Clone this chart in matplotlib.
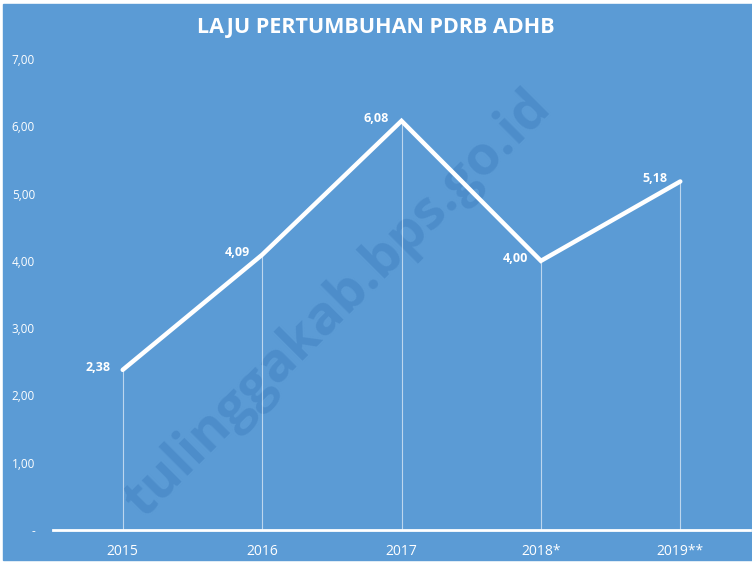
import numpy as np
import matplotlib.pyplot as plt

tahun = ['2015', '2016', '2017', '2018*', '2019**']
laju = [2.38, 4.09, 6.08, 4.00, 5.18]
yticks = [0, 1, 2, 3, 4, 5, 6, 7]
ylabels = ['-', '1,00', '2,00', '3,00', '4,00', '5,00', '6,00', '7,00']

bg = '#5B9BD5'
plt.rcParams['font.family'] = ['Open Sans', 'DejaVu Sans']

fig = plt.figure(figsize=(7.52, 5.63), dpi=100, facecolor='white')
# panel biru
fig.patches.append(plt.Rectangle((3 / 752, 0.005), 1, 0.988, transform=fig.transFigure,
                                 color=bg, zorder=0))
ax = fig.add_axes([53 / 752, (563 - 530) / 563, (750 - 53) / 752, (530 - 59) / 563])
ax.set_zorder(2)
ax.patch.set_alpha(0)

x = np.arange(len(tahun))
ax.set_xlim(-0.5, len(tahun) - 0.5)
ax.set_ylim(0, 7)

# garis bantu ke sumbu
ax.vlines(x, 0, laju, color='white', lw=0.8, alpha=0.6, zorder=2)
ax.plot(x, laju, color='white', lw=3.2, solid_capstyle='round', solid_joinstyle='miter', zorder=3)

for xi, v in zip(x, laju):
    ax.annotate(f'{v:.2f}'.replace('.', ','), (xi, v), xytext=(-9, 2), textcoords='offset points',
                ha='right', va='center', color='white', fontsize=9, fontweight='bold')

for s in ['top', 'right', 'left']:
    ax.spines[s].set_visible(False)
ax.spines['bottom'].set_color('white')
ax.spines['bottom'].set_linewidth(2)

ax.set_xticks(x)
ax.set_xticklabels(tahun, color='white', fontsize=10)
ax.set_yticks(yticks)
ax.set_yticklabels(ylabels, color='white', fontsize=8.5)
ax.tick_params(axis='y', length=0, pad=13)
ax.tick_params(axis='x', length=0, pad=10)

fig.text(0.5, 1 - 27 / 563, 'LAJU PERTUMBUHAN PDRB ADHB', ha='center', va='center',
         color='white', fontsize=15.5, fontweight='bold', zorder=3)

# watermark
fig.text(0.45, 0.46, 'tulinggakab.bps.go.id', ha='center', va='center', rotation=45,
         color='#3f7fbf', alpha=0.5, fontsize=39, fontweight='bold', zorder=1)

fig.savefig('out.png', dpi=100, facecolor='white')
